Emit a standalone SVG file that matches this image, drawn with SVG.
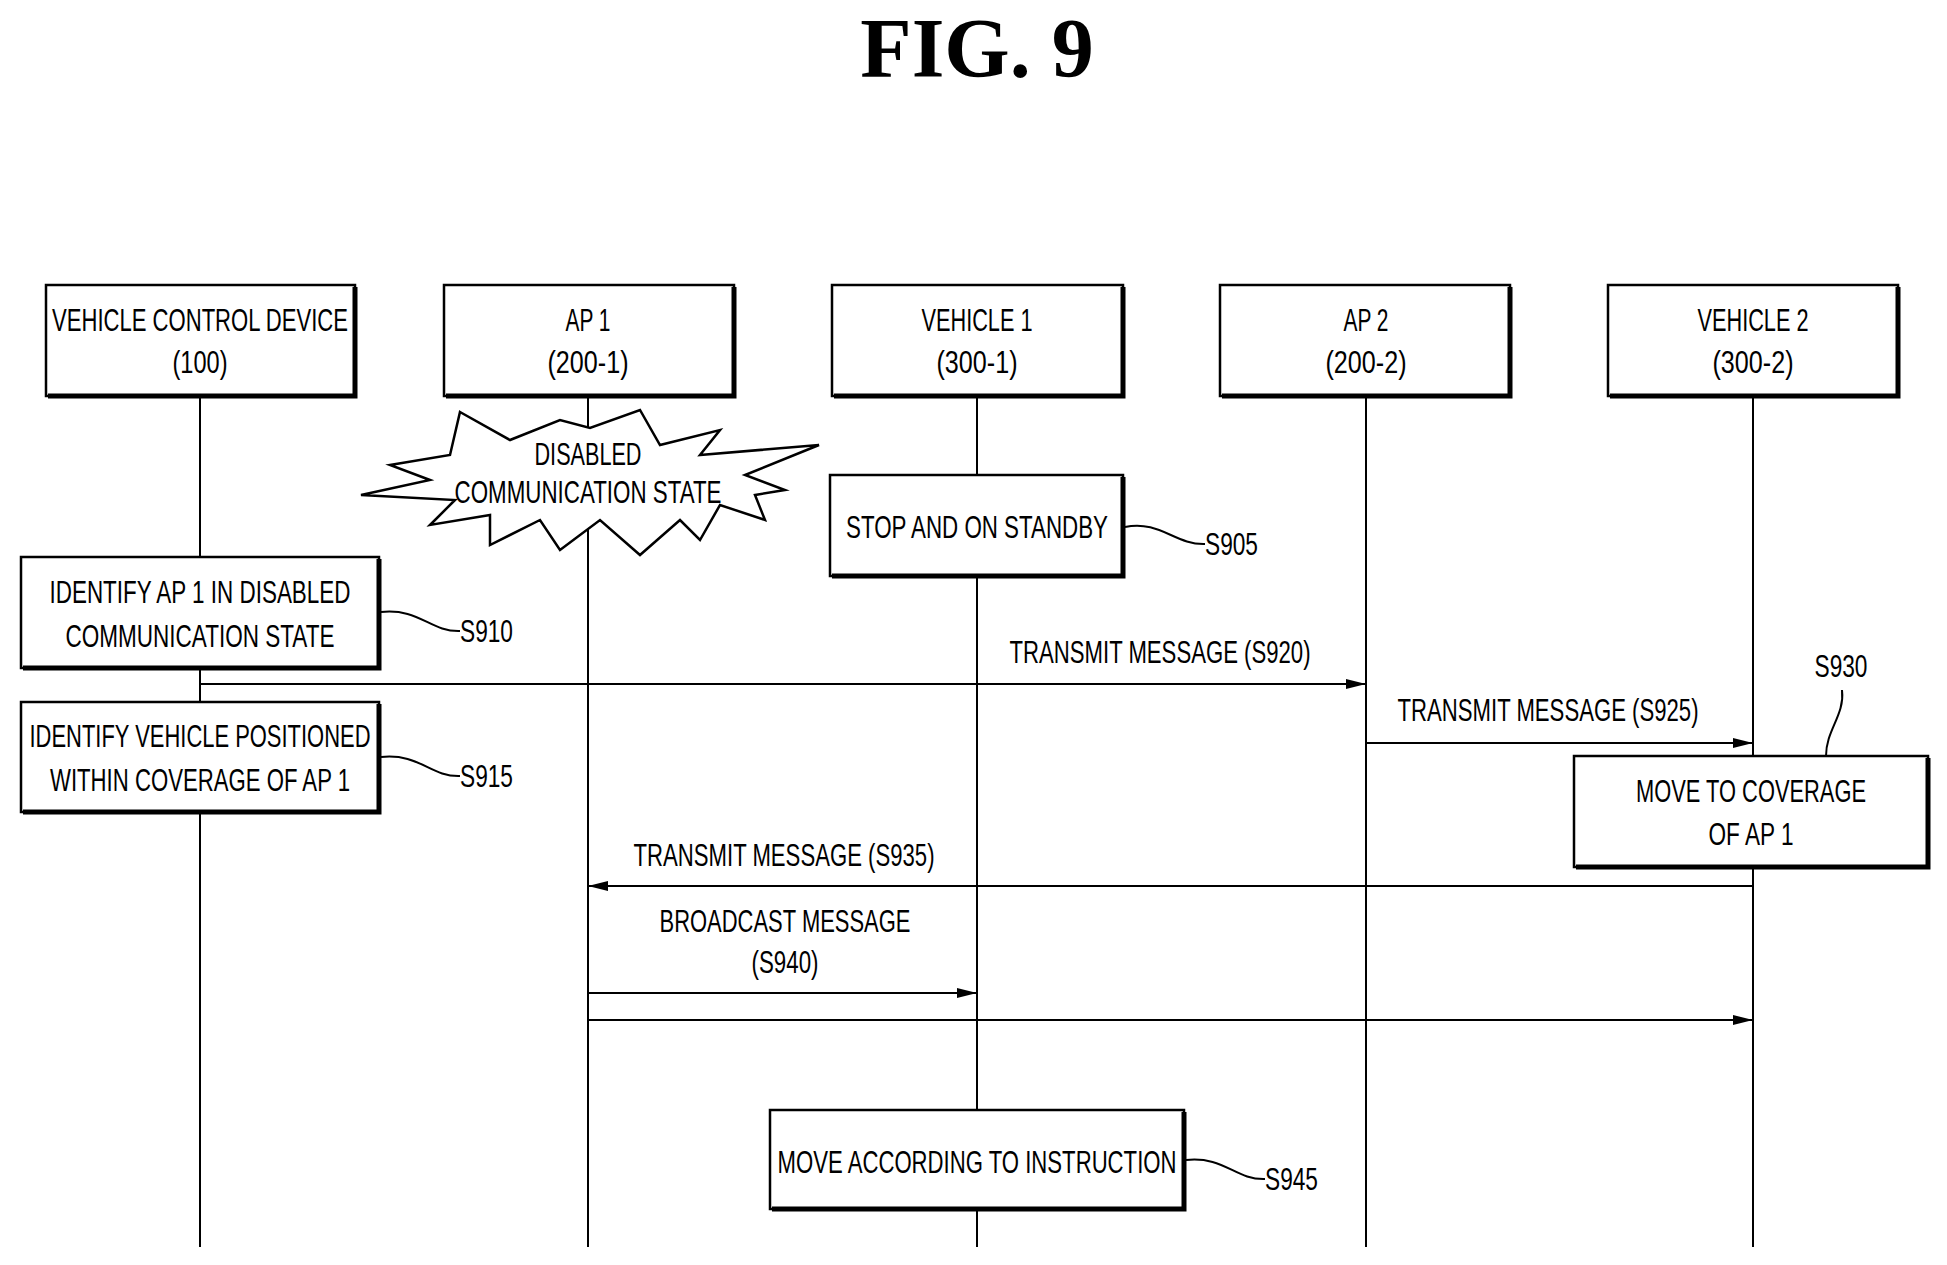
<svg xmlns="http://www.w3.org/2000/svg" width="1947" height="1265" viewBox="0 0 1947 1265">
<defs>
<style>
.t{font-family:"Liberation Sans",Arial,sans-serif;font-size:31px;fill:#000;text-anchor:middle}
.l{font-family:"Liberation Sans",Arial,sans-serif;font-size:31px;fill:#000}
.b{fill:#fff;stroke:#000;stroke-width:2.5}
.s{fill:none;stroke:#000;stroke-width:5}
.ln{fill:none;stroke:#000;stroke-width:2}
</style>
<marker id="a" markerWidth="20" markerHeight="10" refX="20" refY="5" orient="auto" markerUnits="userSpaceOnUse"><path d="M0,0 L20,5 L0,10 Z" fill="#000"/></marker>
</defs>
<rect width="1947" height="1265" fill="#fff"/>
<text x="977" y="77" font-family="Liberation Serif,serif" font-weight="bold" font-size="84" text-anchor="middle">FIG. 9</text>
<g id="lifelines" class="ln">
<line x1="200" y1="396" x2="200" y2="1247"/><line x1="588" y1="396" x2="588" y2="1247"/><line x1="977" y1="396" x2="977" y2="1247"/><line x1="1366" y1="396" x2="1366" y2="1247"/><line x1="1753" y1="396" x2="1753" y2="1247"/>
</g>
<g id="h1"><rect class="b" x="46" y="285" width="309" height="111"/><path class="s" d="M355,287 V396 H48"/><text class="t" x="200" y="331" textLength="296" lengthAdjust="spacingAndGlyphs">VEHICLE CONTROL DEVICE</text><text class="t" x="200" y="373" textLength="55" lengthAdjust="spacingAndGlyphs">(100)</text></g>
<g id="h2"><rect class="b" x="444" y="285" width="290" height="111"/><path class="s" d="M734,287 V396 H446"/><text class="t" x="588" y="331" textLength="45" lengthAdjust="spacingAndGlyphs">AP 1</text><text class="t" x="588" y="373" textLength="81" lengthAdjust="spacingAndGlyphs">(200-1)</text></g>
<g id="h3"><rect class="b" x="832" y="285" width="291" height="111"/><path class="s" d="M1123,287 V396 H834"/><text class="t" x="977" y="331" textLength="111" lengthAdjust="spacingAndGlyphs">VEHICLE 1</text><text class="t" x="977" y="373" textLength="81" lengthAdjust="spacingAndGlyphs">(300-1)</text></g>
<g id="h4"><rect class="b" x="1220" y="285" width="290" height="111"/><path class="s" d="M1510,287 V396 H1222"/><text class="t" x="1366" y="331" textLength="45" lengthAdjust="spacingAndGlyphs">AP 2</text><text class="t" x="1366" y="373" textLength="81" lengthAdjust="spacingAndGlyphs">(200-2)</text></g>
<g id="h5"><rect class="b" x="1608" y="285" width="290" height="111"/><path class="s" d="M1898,287 V396 H1610"/><text class="t" x="1753" y="331" textLength="111" lengthAdjust="spacingAndGlyphs">VEHICLE 2</text><text class="t" x="1753" y="373" textLength="81" lengthAdjust="spacingAndGlyphs">(300-2)</text></g>
<g id="burst"><polygon class="b" points="460,412 510,440 560,420 590,428 640,410 660,445 720,430 700,455 819,445 745,475 785,490 755,495 765,520 720,505 700,540 680,520 640,555 600,520 560,550 540,520 490,545 490,515 430,525 455,500 361,495 430,480 390,465 450,455"/><text class="t" x="588" y="465" textLength="107" lengthAdjust="spacingAndGlyphs">DISABLED</text><text class="t" x="588" y="503" textLength="267" lengthAdjust="spacingAndGlyphs">COMMUNICATION STATE</text></g>
<g id="s905"><rect class="b" x="830" y="475" width="293" height="101"/><path class="s" d="M1123,477 V576 H832"/><text class="t" x="977" y="538" textLength="262" lengthAdjust="spacingAndGlyphs">STOP AND ON STANDBY</text><path class="ln" d="M1125,527 C1160,520 1175,545 1205,544"/><text class="l" x="1205" y="555" textLength="53" lengthAdjust="spacingAndGlyphs">S905</text></g>
<g id="s910"><rect class="b" x="21" y="557" width="358" height="111"/><path class="s" d="M379,559 V668 H23"/><text class="t" x="200" y="603" textLength="301" lengthAdjust="spacingAndGlyphs">IDENTIFY AP 1 IN DISABLED</text><text class="t" x="200" y="647" textLength="269" lengthAdjust="spacingAndGlyphs">COMMUNICATION STATE</text><path class="ln" d="M381,612 C420,608 430,632 460,631"/><text class="l" x="460" y="642" textLength="53" lengthAdjust="spacingAndGlyphs">S910</text></g>
<g id="s915"><rect class="b" x="21" y="702" width="358" height="110"/><path class="s" d="M379,704 V812 H23"/><text class="t" x="200" y="747" textLength="341" lengthAdjust="spacingAndGlyphs">IDENTIFY VEHICLE POSITIONED</text><text class="t" x="200" y="791" textLength="300" lengthAdjust="spacingAndGlyphs">WITHIN COVERAGE OF AP 1</text><path class="ln" d="M381,757 C420,753 430,777 460,776"/><text class="l" x="460" y="787" textLength="53" lengthAdjust="spacingAndGlyphs">S915</text></g>
<g id="s930"><rect class="b" x="1574" y="756" width="354" height="111"/><path class="s" d="M1928,758 V867 H1576"/><text class="t" x="1751" y="802" textLength="230" lengthAdjust="spacingAndGlyphs">MOVE TO COVERAGE</text><text class="t" x="1751" y="845" textLength="85" lengthAdjust="spacingAndGlyphs">OF AP 1</text><path class="ln" d="M1826,756 C1826,730 1845,715 1842,690"/><text class="t" x="1841" y="677" textLength="53" lengthAdjust="spacingAndGlyphs">S930</text></g>
<g id="s945"><rect class="b" x="770" y="1110" width="414" height="99"/><path class="s" d="M1184,1112 V1209 H772"/><text class="t" x="977" y="1173" textLength="399" lengthAdjust="spacingAndGlyphs">MOVE ACCORDING TO INSTRUCTION</text><path class="ln" d="M1186,1160 C1225,1156 1235,1180 1265,1179"/><text class="l" x="1265" y="1190" textLength="53" lengthAdjust="spacingAndGlyphs">S945</text></g>
<g id="connectors" class="ln">
<line x1="200" y1="684" x2="1366" y2="684" marker-end="url(#a)"/>
<line x1="1366" y1="743" x2="1753" y2="743" marker-end="url(#a)"/>
<line x1="1753" y1="886" x2="588" y2="886" marker-end="url(#a)"/>
<line x1="588" y1="993" x2="977" y2="993" marker-end="url(#a)"/>
<line x1="588" y1="1020" x2="1753" y2="1020" marker-end="url(#a)"/>
</g>
<g id="labels">
<text class="t" x="1160" y="663" textLength="301" lengthAdjust="spacingAndGlyphs">TRANSMIT MESSAGE (S920)</text>
<text class="t" x="1548" y="721" textLength="301" lengthAdjust="spacingAndGlyphs">TRANSMIT MESSAGE (S925)</text>
<text class="t" x="784" y="866" textLength="301" lengthAdjust="spacingAndGlyphs">TRANSMIT MESSAGE (S935)</text>
<text class="t" x="785" y="932" textLength="251" lengthAdjust="spacingAndGlyphs">BROADCAST MESSAGE</text>
<text class="t" x="785" y="973" textLength="67" lengthAdjust="spacingAndGlyphs">(S940)</text>
</g>
</svg>
